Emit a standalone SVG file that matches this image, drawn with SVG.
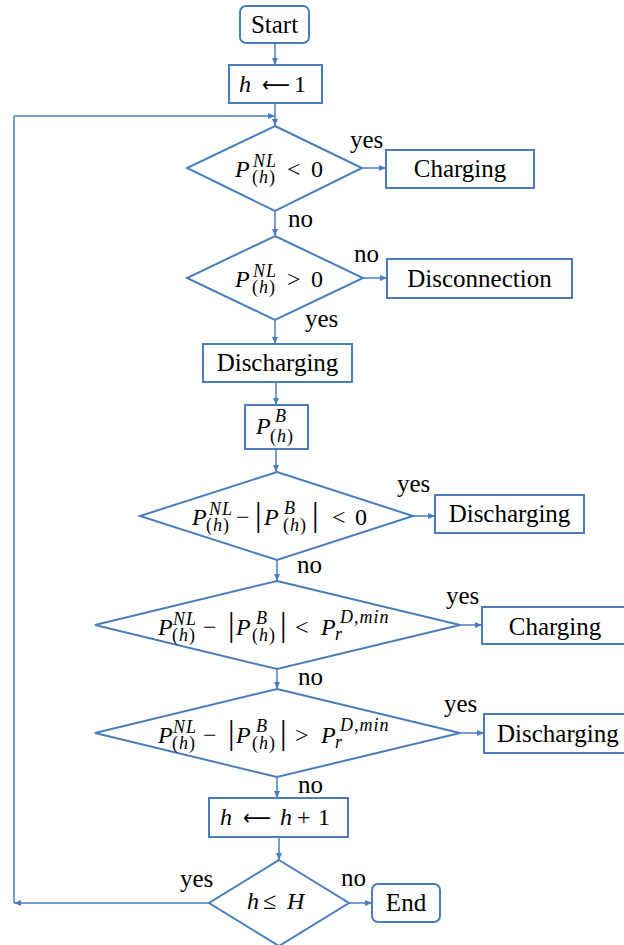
<svg xmlns="http://www.w3.org/2000/svg" width="624" height="945" viewBox="0 0 624 945">
<defs>
<style>
.b{fill:#fff;stroke:#4a7ebb;stroke-width:2}
.c{fill:none;stroke:#4a7ebb;stroke-width:1.5}
.a{marker-end:url(#ah)}
.t{font-family:'Liberation Serif','Times New Roman',serif;font-size:25px;fill:#000}
.m{font-family:'Liberation Serif','Times New Roman',serif;font-size:24px;font-style:italic;fill:#000}
.s{font-size:18px;letter-spacing:1px}
.n{font-style:normal}
.bar{font-style:normal;font-size:33px}
.arw{font-family:'DejaVu Sans',sans-serif;font-style:normal;font-size:22px}
</style>
<marker id="ah" markerWidth="7" markerHeight="6" refX="7" refY="3" orient="auto" markerUnits="userSpaceOnUse">
<path d="M0,0 L7,3 L0,6 z" fill="#4a7ebb"/>
</marker>
</defs>
<rect width="624" height="945" fill="#fff"/>

<g id="connectors">
<path class="c a" d="M275,43 V65"/>
<path class="c a" d="M275,103 V126"/>
<path class="c a" d="M209,903 H14"/>
<path class="c" d="M14,903 V116"/>
<path class="c a" d="M14,116 H275"/>
<path class="c a" d="M362,168 H386"/>
<path class="c a" d="M275,211 V236"/>
<path class="c a" d="M363,278 H387"/>
<path class="c a" d="M275,320 V344"/>
<path class="c a" d="M276,382 V405"/>
<path class="c a" d="M276,449 V472"/>
<path class="c a" d="M413,516 H435"/>
<path class="c a" d="M277,560 V581"/>
<path class="c a" d="M460,625 H482"/>
<path class="c a" d="M277,669 V689"/>
<path class="c a" d="M460,733 H484"/>
<path class="c a" d="M277,777 V798"/>
<path class="c a" d="M279,837 V860"/>
<path class="c a" d="M349,903 H372"/>
</g>

<g id="start">
<rect class="b" x="240" y="6" width="69" height="37" rx="6"/>
<text class="t" x="274.5" y="33" text-anchor="middle">Start</text>
</g>

<g id="init">
<rect class="b" x="229" y="65" width="93" height="38"/>
<text class="m" y="92"><tspan x="239">h</tspan><tspan class="arw" x="262" textLength="28" lengthAdjust="spacingAndGlyphs">⟵</tspan><tspan class="n" x="294">1</tspan></text>
</g>

<g id="d1">
<polygon class="b" points="275,126 362,168 275,211 187,168"/>
<text class="m"><tspan x="235" y="177">P</tspan><tspan class="s" x="253" y="167">NL</tspan><tspan class="s" x="252" y="183"><tspan class="n">(</tspan>h<tspan class="n">)</tspan></tspan><tspan class="n" x="287" y="177">&lt;</tspan><tspan class="n" x="311" y="177">0</tspan></text>
</g>

<g id="charging1">
<rect class="b" x="386" y="150" width="148" height="38"/>
<text class="t" x="460" y="177" text-anchor="middle">Charging</text>
</g>

<g id="d2">
<polygon class="b" points="275,236 363,278 275,320 187,278"/>
<text class="m"><tspan x="235" y="287">P</tspan><tspan class="s" x="253" y="277">NL</tspan><tspan class="s" x="252" y="293"><tspan class="n">(</tspan>h<tspan class="n">)</tspan></tspan><tspan class="n" x="287" y="287">&gt;</tspan><tspan class="n" x="311" y="287">0</tspan></text>
</g>

<g id="disconnection">
<rect class="b" x="387" y="259" width="185" height="39"/>
<text class="t" x="479.5" y="287" text-anchor="middle">Disconnection</text>
</g>

<g id="discharging1">
<rect class="b" x="203" y="344" width="149" height="38"/>
<text class="t" x="277.5" y="371" text-anchor="middle">Discharging</text>
</g>

<g id="pb">
<rect class="b" x="245" y="405" width="63" height="44"/>
<text class="m"><tspan x="256" y="434">P</tspan><tspan class="s" x="275" y="422">B</tspan><tspan class="s" x="270" y="442"><tspan class="n">(</tspan>h<tspan class="n">)</tspan></tspan></text>
</g>

<g id="d3">
<polygon class="b" points="277,472 413,516 277,560 140,516"/>
<text class="m"><tspan x="192" y="525">P</tspan><tspan class="s" x="209" y="515">NL</tspan><tspan class="s" x="206" y="531"><tspan class="n">(</tspan>h<tspan class="n">)</tspan></tspan><tspan class="n" x="236" y="525">−</tspan><tspan class="bar" x="255" y="526">|</tspan><tspan x="264" y="525">P</tspan><tspan class="s" x="284" y="514">B</tspan><tspan class="s" x="283" y="531"><tspan class="n">(</tspan>h<tspan class="n">)</tspan></tspan><tspan class="bar" x="312" y="526">|</tspan><tspan class="n" x="332" y="525">&lt;</tspan><tspan class="n" x="355" y="525">0</tspan></text>
</g>

<g id="discharging2">
<rect class="b" x="435" y="495" width="149" height="38"/>
<text class="t" x="509.5" y="522" text-anchor="middle">Discharging</text>
</g>

<g id="d4">
<polygon class="b" points="277,581 460,625 277,669 95,625"/>
<text class="m"><tspan x="158" y="635">P</tspan><tspan class="s" x="173" y="625">NL</tspan><tspan class="s" x="172" y="641"><tspan class="n">(</tspan>h<tspan class="n">)</tspan></tspan><tspan class="n" x="203" y="635">−</tspan><tspan class="bar" x="228" y="636">|</tspan><tspan x="236" y="635">P</tspan><tspan class="s" x="256" y="624">B</tspan><tspan class="s" x="252" y="641"><tspan class="n">(</tspan>h<tspan class="n">)</tspan></tspan><tspan class="bar" x="280" y="636">|</tspan><tspan class="n" x="295" y="635">&lt;</tspan><tspan x="321" y="635">P</tspan><tspan class="s" x="340" y="623">D<tspan class="n">,</tspan>min</tspan><tspan class="s" x="335" y="640">r</tspan></text>
</g>

<g id="charging2">
<rect class="b" x="482" y="607" width="145" height="37"/>
<text class="t" x="555" y="635" text-anchor="middle">Charging</text>
</g>

<g id="d5">
<polygon class="b" points="277,689 460,733 277,777 95,733"/>
<text class="m"><tspan x="158" y="743">P</tspan><tspan class="s" x="173" y="733">NL</tspan><tspan class="s" x="172" y="749"><tspan class="n">(</tspan>h<tspan class="n">)</tspan></tspan><tspan class="n" x="203" y="743">−</tspan><tspan class="bar" x="228" y="744">|</tspan><tspan x="236" y="743">P</tspan><tspan class="s" x="256" y="732">B</tspan><tspan class="s" x="252" y="749"><tspan class="n">(</tspan>h<tspan class="n">)</tspan></tspan><tspan class="bar" x="280" y="744">|</tspan><tspan class="n" x="295" y="743">&gt;</tspan><tspan x="321" y="743">P</tspan><tspan class="s" x="340" y="731">D<tspan class="n">,</tspan>min</tspan><tspan class="s" x="335" y="748">r</tspan></text>
</g>

<g id="discharging3">
<rect class="b" x="484" y="714" width="145" height="39"/>
<text class="t" x="497" y="742">Discharging</text>
</g>

<g id="incr">
<rect class="b" x="209" y="798" width="139" height="39"/>
<text class="m" y="825"><tspan x="220">h</tspan><tspan class="arw" x="243" textLength="28" lengthAdjust="spacingAndGlyphs">⟵</tspan><tspan x="280">h</tspan><tspan class="n" x="297">+</tspan><tspan class="n" x="318">1</tspan></text>
</g>

<g id="d6">
<polygon class="b" points="279,860 349,903 279,946 209,903"/>
<text class="m" y="909"><tspan x="247">h</tspan><tspan class="n" x="263">≤</tspan><tspan x="287">H</tspan></text>
</g>

<g id="end">
<rect class="b" x="372" y="884" width="68" height="38" rx="6"/>
<text class="t" x="406" y="911" text-anchor="middle">End</text>
</g>

<g id="labels" class="t">
<text x="350" y="148">yes</text>
<text x="288" y="227">no</text>
<text x="354" y="262">no</text>
<text x="305" y="327">yes</text>
<text x="397" y="492">yes</text>
<text x="297" y="573">no</text>
<text x="446" y="604">yes</text>
<text x="298" y="685">no</text>
<text x="444" y="712">yes</text>
<text x="298" y="793">no</text>
<text x="180" y="887">yes</text>
<text x="341" y="886">no</text>
</g>
</svg>
